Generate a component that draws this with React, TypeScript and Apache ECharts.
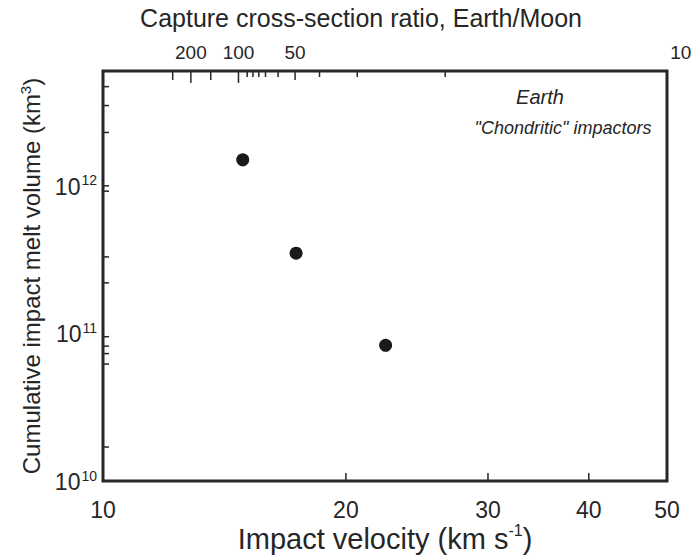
import React, { useEffect, useRef } from 'react';
import * as echarts from 'echarts';

// Data
const velocities = [14.9, 17.35, 22.4]; // km/s
const meltVolumes = [1.5e12, 3.5e11, 8.3e10]; // km^3

const xMin = 10;
const xMax = 50;
const yMin = 1e10;
const yMax = 6e12;

const bottomTickValues = [20, 30, 40];
const bottomLabelValues = [10, 20, 30, 40, 50];
const bottomLabelTexts = ['10', '20', '30', '40', '50'];

const topTickVelocities = [12.2, 12.85, 13.6, 14.72, 15.09, 15.34, 15.6, 15.9, 16.48, 17.3, 18.55, 20.66, 26.55];
const topTickKinds = ['m', 'l', 'm', 'l', 's', 's', 's', 's', 's', 'm', 's', 's', 's'];
const topLabelVelocities = [12.85, 14.72, 17.3, 52];
const topLabelTexts = ['200', '100', '50', '10'];

const leftMinorTicks = [4.7e12, 3.5e12, 2.3e12, 1e12, 9.2e11, 3.3e11, 2.2e11, 9.5e10, 8.2e10, 7.3e10, 6.2e10, 1.7e10];

const FONT = '"Liberation Sans", Arial, Helvetica, sans-serif';
const INK = '#262626';

export default function App() {
  const ref = useRef<HTMLDivElement>(null);

  useEffect(() => {
    if (!ref.current) return;
    const chart = echarts.init(ref.current, null, { renderer: 'svg' });

    const tickLen: Record<string, number> = { l: 12, m: 9, s: 6 };

    const option: any = {
      animation: false,
      backgroundColor: '#ffffff',
      textStyle: { fontFamily: FONT },
      grid: {
        left: 103,
        top: 71,
        right: 29,
        bottom: 75,
        show: true,
        borderColor: INK,
        borderWidth: 3,
        backgroundColor: 'transparent',
      },
      xAxis: {
        type: 'log',
        logBase: 10,
        min: xMin,
        max: xMax,
        axisLine: { show: false },
        axisTick: { show: false },
        axisLabel: { show: false },
        splitLine: { show: false },
        name: '{a|Impact velocity (km s}{s|-1}{a|)}',
        nameLocation: 'middle',
        nameGap: 41,
        nameTextStyle: {
          rich: {
            a: { fontSize: 29, color: INK, fontFamily: FONT, verticalAlign: 'bottom' },
            s: { fontSize: 16, color: INK, fontFamily: FONT, verticalAlign: 'bottom', padding: [0, 0, 15, 0] },
          },
        },
      },
      yAxis: {
        type: 'log',
        logBase: 10,
        min: yMin,
        max: yMax,
        axisLine: { show: false },
        axisTick: { show: false },
        splitLine: { show: false },
        axisLabel: {
          margin: 6,
          showMaxLabel: false,
          formatter: (v: number) => {
            const e = Math.log10(v);
            const r = Math.round(e);
            if (Math.abs(e - r) > 1e-6) return '';
            return '{b|10}{s|' + r + '}';
          },
          rich: {
            b: { fontSize: 23, color: INK, fontFamily: FONT, verticalAlign: 'bottom' },
            s: { fontSize: 14, color: INK, fontFamily: FONT, verticalAlign: 'bottom', padding: [0, 0, 11, 1] },
          },
        },
        name: '{a|Cumulative impact melt volume (km}{s|3}{a|)}',
        nameLocation: 'middle',
        nameRotate: 90,
        nameGap: 58,
        nameTextStyle: {
          rich: {
            a: { fontSize: 24, color: INK, fontFamily: FONT, verticalAlign: 'bottom' },
            s: { fontSize: 15, color: INK, fontFamily: FONT, verticalAlign: 'bottom', padding: [0, 0, 11, 0] },
          },
        },
      },
      graphic: [
        {
          type: 'text',
          x: 361,
          y: 18,
          style: {
            text: 'Capture cross-section ratio, Earth/Moon',
            font: '25px ' + FONT,
            fill: INK,
            align: 'center',
            verticalAlign: 'middle',
          },
        },
        {
          type: 'text',
          x: 540,
          y: 97,
          style: {
            text: 'Earth',
            font: 'italic 20px ' + FONT,
            fill: INK,
            align: 'center',
            verticalAlign: 'middle',
          },
        },
        {
          type: 'text',
          x: 563,
          y: 128,
          style: {
            text: '"Chondritic" impactors',
            font: 'italic 18px ' + FONT,
            fill: INK,
            align: 'center',
            verticalAlign: 'middle',
          },
        },
      ],
      series: [
        {
          type: 'scatter',
          data: velocities.map((v, i) => [v, meltVolumes[i]]),
          symbol: 'circle',
          symbolSize: 13,
          itemStyle: { color: '#1a1a1a', opacity: 1 },
          z: 5,
        },
        {
          type: 'custom',
          clip: false,
          data: bottomTickValues.map((v) => [v, yMin]),
          renderItem: (_p: any, api: any) => {
            const p = api.coord([api.value(0), yMin]);
            return {
              type: 'line',
              shape: { x1: p[0], y1: p[1], x2: p[0], y2: p[1] - 8 },
              style: { stroke: INK, lineWidth: 1.5 },
            };
          },
        },
        {
          type: 'custom',
          clip: false,
          data: bottomLabelValues.map((v, i) => [v, yMin, i]),
          renderItem: (_p: any, api: any) => {
            const p = api.coord([api.value(0), yMin]);
            return {
              type: 'text',
              x: p[0],
              y: p[1] + 29,
              style: {
                text: bottomLabelTexts[api.value(2)],
                font: '23px ' + FONT,
                fill: INK,
                align: 'center',
                verticalAlign: 'middle',
              },
            };
          },
        },
        {
          type: 'custom',
          clip: false,
          data: topTickVelocities.map((v, i) => [v, yMax, i]),
          renderItem: (_p: any, api: any) => {
            const p = api.coord([api.value(0), yMax]);
            const len = tickLen[topTickKinds[api.value(2)]];
            return {
              type: 'line',
              shape: { x1: p[0], y1: p[1], x2: p[0], y2: p[1] + len },
              style: { stroke: INK, lineWidth: 1.5 },
            };
          },
        },
        {
          type: 'custom',
          clip: false,
          data: topLabelVelocities.map((v, i) => [v, yMax, i]),
          renderItem: (_p: any, api: any) => {
            const p = api.coord([api.value(0), yMax]);
            return {
              type: 'text',
              x: p[0],
              y: p[1] - 19,
              style: {
                text: topLabelTexts[api.value(2)],
                font: '19px ' + FONT,
                fill: INK,
                align: 'center',
                verticalAlign: 'middle',
              },
            };
          },
        },
        {
          type: 'custom',
          clip: false,
          data: leftMinorTicks.map((v) => [xMin, v]),
          renderItem: (_p: any, api: any) => {
            const p = api.coord([xMin, api.value(1)]);
            return {
              type: 'line',
              shape: { x1: p[0], y1: p[1], x2: p[0] + 6, y2: p[1] },
              style: { stroke: INK, lineWidth: 1.5 },
            };
          },
        },
      ],
    };

    chart.setOption(option);
    return () => {
      chart.dispose();
    };
  }, []);

  return (
    <div
      ref={ref}
      style={{ position: 'fixed', left: 0, top: 0, width: 696, height: 558, background: '#fff' }}
    />
  );
}
